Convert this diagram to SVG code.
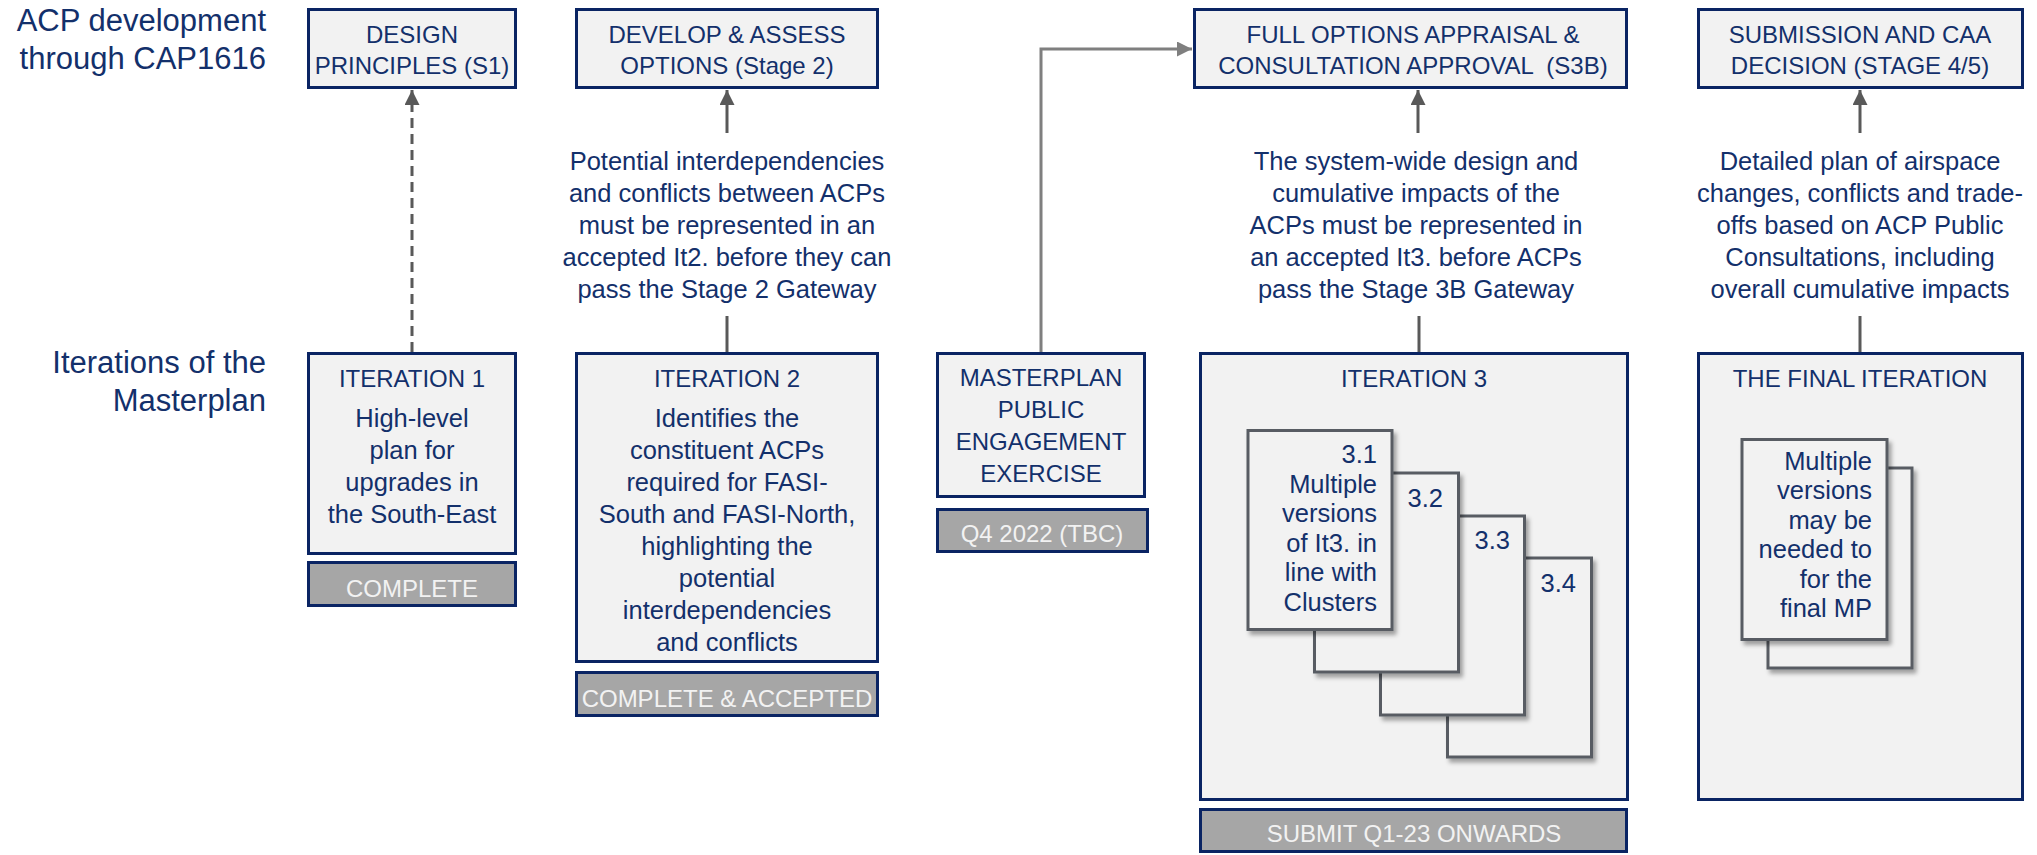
<svg xmlns="http://www.w3.org/2000/svg" width="2037" height="855" viewBox="0 0 2037 855">
<style>
  text { font-family: "Liberation Sans", Arial, sans-serif; fill: #13306b; }
  .lbl { font-size: 31px; text-anchor: end; }
  .ttl { font-size: 24px; text-anchor: middle; }
  .body { font-size: 25.5px; text-anchor: middle; }
  .card { font-size: 25.5px; text-anchor: end; }
  .st { font-size: 24px; text-anchor: middle; fill: #f2f2f2; }
  .box { fill: #f2f2f2; stroke: #0a2463; stroke-width: 3; }
  .sbox { fill: #a6a6a6; stroke: #0a2463; stroke-width: 3; }
  .cardr { fill: #f2f2f2; stroke: #595c63; stroke-width: 3; filter: url(#sh); }
  .conn { stroke: #595959; stroke-width: 3; fill: none; }
  .conn2 { stroke: #7f7f7f; stroke-width: 3; fill: none; }
</style>
<defs>
  <marker id="ah" markerWidth="15" markerHeight="15" viewBox="0 0 15 15" refX="15" refY="7.5" orient="auto" markerUnits="userSpaceOnUse">
    <path d="M0,0 L15,7.5 L0,15 Z" fill="#595959"/>
  </marker>
  <marker id="ah2" markerWidth="15" markerHeight="15" viewBox="0 0 15 15" refX="15" refY="7.5" orient="auto" markerUnits="userSpaceOnUse">
    <path d="M0,0 L15,7.5 L0,15 Z" fill="#7f7f7f"/>
  </marker>
  <filter id="sh" x="-10%" y="-10%" width="130%" height="130%">
    <feDropShadow dx="3" dy="4" stdDeviation="2" flood-color="#000" flood-opacity="0.35"/>
  </filter>
</defs>

<g id="labels">
  <text class="lbl" x="266" y="31">ACP development</text>
  <text class="lbl" x="266" y="69">through CAP1616</text>
  <text class="lbl" x="266" y="373">Iterations of the</text>
  <text class="lbl" x="266" y="411">Masterplan</text>
</g>

<g id="connectors">
  <line class="conn" x1="412" y1="352" x2="412" y2="90" stroke-dasharray="10 6" marker-end="url(#ah)"/>
  <line class="conn" x1="727" y1="133" x2="727" y2="90" marker-end="url(#ah)"/>
  <line class="conn" x1="727" y1="316" x2="727" y2="352"/>
  <line class="conn" x1="1418" y1="133" x2="1418" y2="90" marker-end="url(#ah)"/>
  <line class="conn" x1="1419" y1="316" x2="1419" y2="352"/>
  <line class="conn" x1="1860" y1="133" x2="1860" y2="90" marker-end="url(#ah)"/>
  <line class="conn" x1="1860" y1="316" x2="1860" y2="352"/>
  <polyline class="conn2" points="1041,352 1041,49 1192,49" marker-end="url(#ah2)"/>
</g>

<g id="design-principles">
  <rect class="box" x="308.5" y="9.5" width="207" height="78"/>
  <text class="ttl" x="412" y="43">DESIGN</text>
  <text class="ttl" x="412" y="74">PRINCIPLES (S1)</text>
</g>

<g id="develop-assess">
  <rect class="box" x="576.5" y="9.5" width="301" height="78"/>
  <text class="ttl" x="727" y="43">DEVELOP &amp; ASSESS</text>
  <text class="ttl" x="727" y="74">OPTIONS (Stage 2)</text>
</g>

<g id="full-options">
  <rect class="box" x="1194.5" y="9.5" width="432" height="78"/>
  <text class="ttl" x="1413" y="43">FULL OPTIONS APPRAISAL &amp;</text>
  <text class="ttl" x="1413" y="74" xml:space="preserve">CONSULTATION APPROVAL  (S3B)</text>
</g>

<g id="submission">
  <rect class="box" x="1698.5" y="9.5" width="324" height="78"/>
  <text class="ttl" x="1860" y="43">SUBMISSION AND CAA</text>
  <text class="ttl" x="1860" y="74">DECISION (STAGE 4/5)</text>
</g>

<g id="note-stage2">
  <text class="body" x="727" y="170">Potential interdependencies</text>
  <text class="body" x="727" y="202">and conflicts between ACPs</text>
  <text class="body" x="727" y="234">must be represented in an</text>
  <text class="body" x="727" y="266">accepted It2. before they can</text>
  <text class="body" x="727" y="298">pass the Stage 2 Gateway</text>
</g>

<g id="note-stage3b">
  <text class="body" x="1416" y="170">The system-wide design and</text>
  <text class="body" x="1416" y="202">cumulative impacts of the</text>
  <text class="body" x="1416" y="234">ACPs must be represented in</text>
  <text class="body" x="1416" y="266">an accepted It3. before ACPs</text>
  <text class="body" x="1416" y="298">pass the Stage 3B Gateway</text>
</g>

<g id="note-stage45">
  <text class="body" x="1860" y="170">Detailed plan of airspace</text>
  <text class="body" x="1860" y="202">changes, conflicts and trade-</text>
  <text class="body" x="1860" y="234">offs based on ACP Public</text>
  <text class="body" x="1860" y="266">Consultations, including</text>
  <text class="body" x="1860" y="298">overall cumulative impacts</text>
</g>

<g id="iteration-1">
  <rect class="box" x="308.5" y="353.5" width="207" height="200"/>
  <text class="ttl" x="412" y="387">ITERATION 1</text>
  <text class="body" x="412" y="427">High-level</text>
  <text class="body" x="412" y="459">plan for</text>
  <text class="body" x="412" y="491">upgrades in</text>
  <text class="body" x="412" y="523">the South-East</text>
</g>

<g id="status-complete">
  <rect class="sbox" x="308.5" y="562.5" width="207" height="43"/>
  <text class="st" x="412" y="597">COMPLETE</text>
</g>

<g id="iteration-2">
  <rect class="box" x="576.5" y="353.5" width="301" height="308"/>
  <text class="ttl" x="727" y="387">ITERATION 2</text>
  <text class="body" x="727" y="427">Identifies the</text>
  <text class="body" x="727" y="459">constituent ACPs</text>
  <text class="body" x="727" y="491">required for FASI-</text>
  <text class="body" x="727" y="523">South and FASI-North,</text>
  <text class="body" x="727" y="555">highlighting the</text>
  <text class="body" x="727" y="587">potential</text>
  <text class="body" x="727" y="619">interdependencies</text>
  <text class="body" x="727" y="651">and conflicts</text>
</g>

<g id="status-accepted">
  <rect class="sbox" x="576.5" y="672.5" width="301" height="43"/>
  <text class="st" x="727" y="707">COMPLETE &amp; ACCEPTED</text>
</g>

<g id="masterplan-engagement">
  <rect class="box" x="937.5" y="353.5" width="207" height="143"/>
  <text class="ttl" x="1041" y="386">MASTERPLAN</text>
  <text class="ttl" x="1041" y="418">PUBLIC</text>
  <text class="ttl" x="1041" y="450">ENGAGEMENT</text>
  <text class="ttl" x="1041" y="482">EXERCISE</text>
</g>

<g id="status-q4">
  <rect class="sbox" x="937.5" y="509.5" width="210" height="42"/>
  <text class="st" x="1042" y="542">Q4 2022 (TBC)</text>
</g>

<g id="iteration-3">
  <rect class="box" x="1200.5" y="353.5" width="427" height="446"/>
  <text class="ttl" x="1414" y="387">ITERATION 3</text>
  <g id="card-3-4">
    <rect class="cardr" x="1447.5" y="558" width="144" height="199"/>
    <text class="card" x="1576" y="592">3.4</text>
  </g>
  <g id="card-3-3">
    <rect class="cardr" x="1380.5" y="516" width="144" height="199"/>
    <text class="card" x="1510" y="549">3.3</text>
  </g>
  <g id="card-3-2">
    <rect class="cardr" x="1314.5" y="473" width="144" height="199"/>
    <text class="card" x="1443" y="507">3.2</text>
  </g>
  <g id="card-3-1">
    <rect class="cardr" x="1248" y="430.5" width="144" height="199"/>
    <text class="card" x="1377" y="463">3.1</text>
    <text class="card" x="1377" y="493">Multiple</text>
    <text class="card" x="1377" y="522">versions</text>
    <text class="card" x="1377" y="552">of It3. in</text>
    <text class="card" x="1377" y="581">line with</text>
    <text class="card" x="1377" y="611">Clusters</text>
  </g>
</g>

<g id="status-submit">
  <rect class="sbox" x="1200.5" y="809.5" width="426" height="42"/>
  <text class="st" x="1414" y="842">SUBMIT Q1-23 ONWARDS</text>
</g>

<g id="final-iteration">
  <rect class="box" x="1698.5" y="353.5" width="324" height="446"/>
  <text class="ttl" x="1860" y="387">THE FINAL ITERATION</text>
  <g id="card-final-back">
    <rect class="cardr" x="1768" y="468" width="144" height="200"/>
  </g>
  <g id="card-final-front">
    <rect class="cardr" x="1742" y="439.5" width="145" height="200"/>
    <text class="card" x="1872" y="470">Multiple</text>
    <text class="card" x="1872" y="499">versions</text>
    <text class="card" x="1872" y="529">may be</text>
    <text class="card" x="1872" y="558">needed to</text>
    <text class="card" x="1872" y="588">for the</text>
    <text class="card" x="1872" y="617">final MP</text>
  </g>
</g>
</svg>
